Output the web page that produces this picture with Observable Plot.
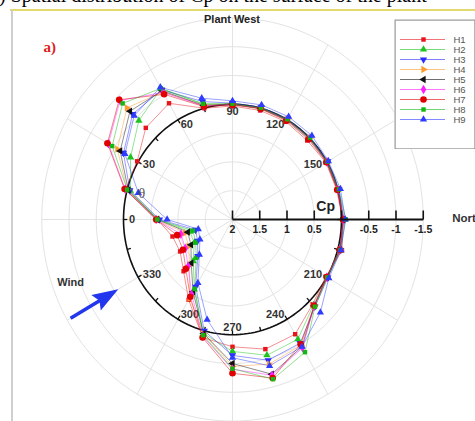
<!DOCTYPE html>
<html>
<head>
<meta charset="utf-8">
<script src="https://cdn.jsdelivr.net/npm/d3@7"></script>
<script src="https://cdn.jsdelivr.net/npm/@observablehq/plot@0.6"></script>
<style>
html,body{margin:0;padding:0;background:#fff;}
body{position:relative;width:475px;height:421px;overflow:hidden;font-family:Arial,"Liberation Sans",sans-serif;}
#chart{position:absolute;left:0;top:0;}
#legend{position:absolute;left:394px;top:19px;}
#cap{position:absolute;left:-11px;top:-16px;font-size:20px;font-family:"Liberation Serif","Times New Roman",serif;white-space:nowrap;color:#000;line-height:23px;}
#frameTop{position:absolute;left:10px;top:9px;width:470px;height:2px;background:#e2da6e;}
#frameLeft{position:absolute;left:11px;top:10px;width:2px;height:420px;background:#cfcfcf;}
</style>
</head>
<body>
<div id="chart"></div>
<div id="legend"></div>
<div id="cap">b) Spatial distribution of Cp on the surface of the plant</div>
<div id="frameTop"></div>
<div id="frameLeft"></div>
<script>
// ---------------- data ----------------
const series = ["H1","H2","H3","H4","H5","H6","H7","H8","H9"];
const angles = [0,15,30,45,60,75,90,105,120,135,150,165,180,195,210,225,240,255,270,285,300,315,330,345];

const cpH1 = [0.62,-0.03,-0.02,-0.25,-0.33,0.00,0.03,0.04,0.04,0.06,0.02,0.02,-0.02,-0.08,0.02,-0.08,-0.30,-0.33,-0.21,-0.12,0.39,0.73,0.89,0.86];
const cpH2 = [0.64,0.06,-0.16,-0.43,-0.62,-0.07,0.00,0.01,0.01,0.02,0.00,0.00,-0.04,-0.04,0.00,-0.10,-0.40,-0.44,-0.29,-0.05,0.60,0.98,1.19,1.19];
const cpH3 = [0.66,0.05,-0.31,-0.59,-0.60,-0.12,-0.02,-0.02,-0.02,-0.02,-0.02,-0.02,-0.05,-0.05,-0.02,-0.14,-0.48,-0.53,-0.36,0.00,0.65,1.10,1.26,1.30];
const cpH4 = [0.60,0.00,-0.44,-0.74,-0.56,-0.05,0.00,0.00,0.00,0.00,0.00,0.00,-0.04,-0.04,0.00,-0.12,-0.52,-0.60,-0.55,-0.05,0.42,0.89,1.07,1.10];
const cpH5 = [0.62,0.02,-0.38,-0.66,-0.58,-0.05,0.00,0.00,0.00,0.00,0.00,0.00,-0.03,-0.04,0.00,-0.12,-0.55,-0.78,-0.50,-0.05,0.55,0.93,1.12,1.15];
const cpH6 = [0.60,-0.04,-0.63,-0.92,-0.55,-0.04,0.00,0.00,0.00,0.01,0.00,0.00,-0.03,-0.04,0.00,-0.12,-0.57,-0.80,-0.60,-0.10,0.50,0.85,1.00,1.02];
const cpH7 = [0.60,-0.05,-0.65,-0.94,-0.51,-0.03,0.01,0.01,0.02,0.03,0.01,0.01,-0.03,-0.04,0.00,-0.12,-0.50,-0.85,-0.67,-0.12,0.45,0.79,0.95,0.95];
const cpH8 = [0.62,0.00,-0.55,-0.85,-0.63,-0.08,-0.01,-0.01,-0.01,-0.01,-0.01,-0.02,-0.08,-0.05,-0.01,-0.14,-0.66,-0.87,-0.59,-0.08,0.61,1.06,1.22,1.25];
const cpH9 = [0.80,0.21,-0.28,-0.55,-0.65,-0.18,-0.06,-0.06,-0.06,-0.06,-0.03,-0.05,-0.07,-0.06,-0.04,-0.28,-0.55,-0.63,-0.40,0.20,0.73,1.14,1.31,1.35];

const angleTickValues = [0,15,30,45,60,75,90,105,120,135,150,165,180,195,210,225,240,255,270,285,300,315,330,345];
const angleLabels = [0,30,60,90,120,150,210,240,270,300,330];
const radialTicks = [2,1.5,1,0.5,0,-0.5,-1,-1.5];
const gridLevels = [1.5,1,0.5,0,-0.5,-1,-1.5];
const spokeAngles = [0,30,60,90,120,150,180,210,240,270,300,330];
const windAngle = 330;

// ---------------- styles ----------------
const colors = ["#e8141c","#1fc31f","#2b2bff","#ff9a2e","#111111","#ff1dff","#e00000","#12b812","#2d3cff"];
const symbols = ["square","triangle","triangle","triangle","triangle","diamond","circle","square","triangle"];
const rotations = [0,0,180,90,-90,0,0,0,0];
const sizes = [2.5,2.7,2.7,2.7,2.7,2.9,3.3,2.5,2.7];
const windColor = "#2236ee";
const gridColor = "#e3e3e3";
const font = "Arial, 'Liberation Sans', sans-serif";

// ---------------- geometry ----------------
const cx = 232, cy = 219, kx = 54.5, ky = 57.6, R = 3.5;
const cpToR = cp => 2 - cp;           // radial scale: Cp = 2 at centre, -1.5 at rim
const pos = (theta, r) => {           // theta: 0 = west (left), 90 = top, clockwise
  const a = theta * Math.PI / 180;
  return {x: -r * Math.cos(a), y: r * Math.sin(a)};
};

const cpBySeries = {H1: cpH1, H2: cpH2, H3: cpH3, H4: cpH4, H5: cpH5, H6: cpH6, H7: cpH7, H8: cpH8, H9: cpH9};
const pointsOf = s => angles.map((t, j) => ({series: s, theta: t, cp: cpBySeries[s][j], ...pos(t, cpToR(cpBySeries[s][j]))}));
const closedOf = s => { const p = pointsOf(s); return p.concat([p[0]]); };

const circleOf = cp => d3.range(0, 361, 2).map(t => ({level: cp, ...pos(t, cpToR(cp))}));
const gridData = gridLevels.flatMap(circleOf);

const arrowHead = {
  draw(ctx) {
    ctx.moveTo(0, 0);
    ctx.lineTo(9, 26);
    ctx.lineTo(0, 22);
    ctx.lineTo(-9, 26);
    ctx.closePath();
  }
};
const headRot = Math.atan2(Math.cos(Math.PI/6) * kx, Math.sin(Math.PI/6) * ky) * 180 / Math.PI;

const leftLabels = angleLabels.filter(t => t < 90 || t > 270);
const rightLabels = angleLabels.filter(t => t > 90 && t < 270);
const midLabels = angleLabels.filter(t => t === 90 || t === 270);
const labelR = 1.9;

const chart = Plot.plot({
  width: 475, height: 421, margin: 0,
  x: {domain: [-R, R], range: [cx - R * kx, cx + R * kx], axis: null},
  y: {domain: [-R, R], range: [cy + R * ky, cy - R * ky], axis: null},
  style: {background: "transparent", fontFamily: font, overflow: "visible"},
  marks: [
    // grid
    Plot.line(gridData, {x: "x", y: "y", z: "level", stroke: gridColor, strokeWidth: 1}),
    Plot.link(spokeAngles, {x1: () => 0, y1: () => 0, x2: t => pos(t, R).x, y2: t => pos(t, R).y, stroke: gridColor, strokeWidth: 1}),
    // angular axis (Cp = 0 circle)
    Plot.line(circleOf(0), {x: "x", y: "y", stroke: "#111", strokeWidth: 1.6}),
    Plot.link(angleTickValues, {x1: t => pos(t, 2).x, y1: t => pos(t, 2).y, x2: t => pos(t, 1.93).x, y2: t => pos(t, 1.93).y, stroke: "#111", strokeWidth: 1.3}),
    Plot.text(leftLabels, {x: t => pos(t, labelR).x, y: t => pos(t, labelR).y, text: t => String(t), textAnchor: "start", fontWeight: "bold", fontSize: 11, fill: "#333"}),
    Plot.text(rightLabels, {x: t => pos(t, labelR).x, y: t => pos(t, labelR).y, text: t => String(t), textAnchor: "end", fontWeight: "bold", fontSize: 11, fill: "#333"}),
    Plot.text(midLabels, {x: t => pos(t, 1.87).x, y: t => pos(t, 1.87).y, text: t => String(t), textAnchor: "middle", fontWeight: "bold", fontSize: 11, fill: "#333"}),
    // data
    ...series.map((s, i) => Plot.line(closedOf(s), {x: "x", y: "y", stroke: colors[i], strokeWidth: 0.8, strokeOpacity: 0.6})),
    ...series.map((s, i) => Plot.dot(pointsOf(s), {x: "x", y: "y", symbol: symbols[i], fill: colors[i], r: sizes[i], rotate: rotations[i]})),
    Plot.text(["θ"], {x: () => pos(15, 1.72).x, y: () => pos(15, 1.72).y, text: d => d, fontSize: 14, fontFamily: "'Liberation Serif', serif", fill: "#555"}),
    // radial axis
    Plot.link([R], {x1: () => 0, y1: () => 0, x2: d => d, y2: () => 0, stroke: "#111", strokeWidth: 1.8}),
    Plot.link(radialTicks, {x1: v => cpToR(v), x2: v => cpToR(v), y1: () => 0, y2: () => 9 / ky, stroke: "#111", strokeWidth: 1.6}),
    Plot.text(radialTicks.filter(v => v !== 0), {x: v => cpToR(v), y: () => 0, dy: 10, text: v => String(v), fontWeight: "bold", fontSize: 10.5, fill: "#222"}),
    Plot.text(["Cp"], {x: () => cpToR(0.29), y: () => 0, dy: -13, text: d => d, fontWeight: "bold", fontSize: 14, fill: "#222"}),
    Plot.text(["North"], {x: () => R, y: () => 0, dx: 29, dy: -1, text: d => d, textAnchor: "start", fontWeight: "bold", fontSize: 11.5, fill: "#333"}),
    // wind arrow
    Plot.link([windAngle], {x1: t => pos(t, 3.43).x, y1: t => pos(t, 3.43).y, x2: t => pos(t, 2.8).x, y2: t => pos(t, 2.8).y, stroke: windColor, strokeWidth: 3.5}),
    Plot.dot([windAngle], {x: t => pos(t, 2.42).x, y: t => pos(t, 2.42).y, symbol: arrowHead, fill: windColor, r: 8, rotate: headRot}),
    Plot.text([windAngle], {x: t => pos(t, 3.43).x, y: t => pos(t, 3.43).y, dy: -36, text: () => "Wind", fontWeight: "bold", fontSize: 11, fill: "#333"}),
    // titles
    Plot.text(["Plant West"], {frameAnchor: "top", dx: -6, dy: 15, text: d => d, fontWeight: "bold", fontSize: 11, fill: "#222"}),
    Plot.text(["a)"], {frameAnchor: "top-left", dx: 43, dy: 41, text: d => d, textAnchor: "start", fontWeight: "bold", fontSize: 15, fontFamily: "'Liberation Serif', serif", fill: "#e02020"})
  ]
});
document.getElementById("chart").append(chart);

const legend = Plot.plot({
  width: 81, height: 130, margin: 0,
  x: {domain: [0, 81], range: [0, 81], axis: null},
  y: {type: "point", domain: series, range: [13, 107], axis: null},
  style: {background: "#fff", fontFamily: font},
  marks: [
    Plot.frame({stroke: "#999", strokeWidth: 1.2, inset: 0.6}),
    ...series.map((s, i) => Plot.ruleY([s], {x1: () => 6, x2: () => 51, y: d => d, stroke: colors[i], strokeOpacity: 0.6, strokeWidth: 1})),
    ...series.map((s, i) => Plot.dot([s], {x: () => 29, y: d => d, symbol: symbols[i], fill: colors[i], r: sizes[i], rotate: rotations[i]})),
    Plot.text(series, {x: () => 59, y: d => d, text: d => d, textAnchor: "start", fontSize: 9.5, fill: "#555"})
  ]
});
document.getElementById("legend").append(legend);
</script>
</body>
</html>
